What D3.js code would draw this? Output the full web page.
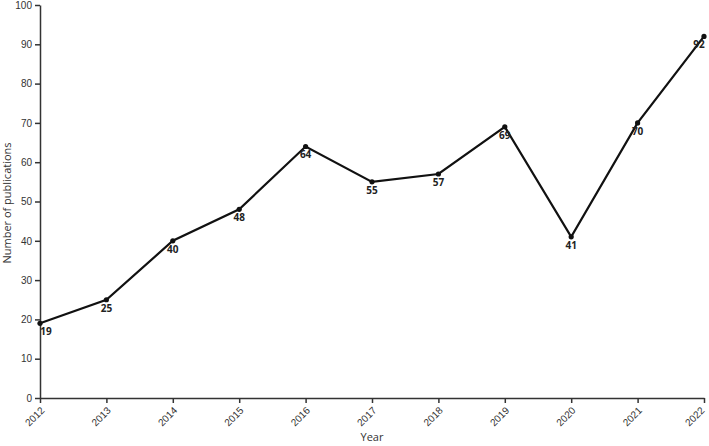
<!DOCTYPE html>
<html><head><meta charset="utf-8">
<script src="https://cdn.jsdelivr.net/npm/d3@7"></script>
<style>body{margin:0;background:#fff}svg{display:block;font-family:"Open Sans",sans-serif}</style>
</head><body>
<script>
const years = [2012,2013,2014,2015,2016,2017,2018,2019,2020,2021,2022];
const publications = [19,25,40,48,64,55,57,69,41,70,92];
const yTicks = [0,10,20,30,40,50,60,70,80,90,100];

const W=709,H=446;
const svg=d3.select("body").append("svg").attr("width",W).attr("height",H);
const x=d3.scalePoint().domain(years).range([40,704]);
const y=d3.scaleLinear().domain([0,100]).range([398,5]);

const xa=svg.append("g").attr("transform","translate(0,398)")
  .call(d3.axisBottom(x).tickSize(5).tickSizeOuter(0));
xa.selectAll("text").attr("transform",(d,i,n)=>i===n.length-1?"translate(-4,0) rotate(-45)":"rotate(-45)")
  .attr("text-anchor","end")
  .attr("dx","-0.6em").attr("dy","0.45em").style("font-size","10px").attr("fill","#333");
const ya=svg.append("g").attr("transform","translate(40,0)")
  .call(d3.axisLeft(y).tickValues(yTicks).tickSize(5).tickSizeOuter(0));
ya.selectAll("text").style("font-size","10px").attr("fill","#333");
svg.selectAll(".domain").attr("stroke","#333").attr("stroke-width",1.5);
svg.selectAll(".tick line").attr("stroke","#333").attr("stroke-width",1.5);

const data=years.map((yr,i)=>({yr,v:publications[i]}));
svg.append("path").datum(data).attr("fill","none").attr("stroke","#111").attr("stroke-width",2.2)
  .attr("d",d3.line().x(d=>x(d.yr)).y(d=>y(d.v)));
svg.selectAll("circle.pt").data(data).enter().append("circle")
  .attr("cx",d=>x(d.yr)).attr("cy",d=>y(d.v)).attr("r",2.6).attr("fill","#111");
svg.selectAll("text.lbl").data(data).enter().append("text")
  .attr("x",d=>Math.max(46,Math.min(699,x(d.yr))))
  .attr("y",d=>y(d.v)+12).attr("text-anchor","middle")
  .style("font-size","10px").style("font-weight","bold").attr("fill","#222").text(d=>d.v);

svg.append("text").attr("x",372).attr("y",441).attr("text-anchor","middle")
  .style("font-size","11px").attr("fill","#333").text("Year");
svg.append("text").attr("transform","translate(11,203) rotate(-90)").attr("text-anchor","middle")
  .style("font-size","11px").attr("fill","#333").text("Number of publications");
</script>
</body></html>
